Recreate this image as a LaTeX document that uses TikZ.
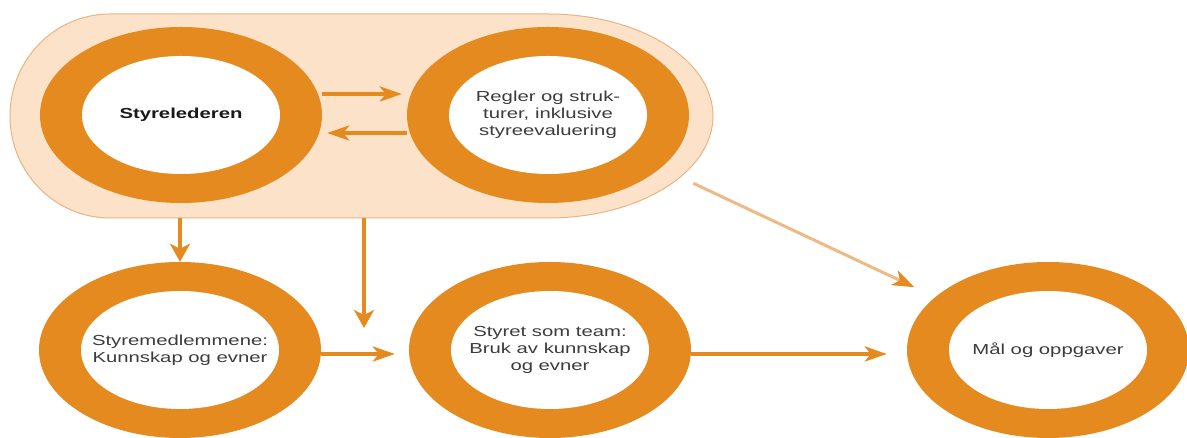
\documentclass[tikz,border=0pt]{standalone}
\usepackage{fontspec}
\setmainfont{Liberation Sans}
\newfontfamily\ringfont[FakeStretch=1.4]{Liberation Sans}
\usetikzlibrary{shapes.geometric, arrows.meta}
\usepackage{xcolor}
\definecolor{ringorange}{HTML}{E48A1F}
\definecolor{bandfill}{HTML}{FBE2C9}
\definecolor{bandline}{HTML}{E7B483}
\definecolor{diagline}{HTML}{EDBA86}
\definecolor{ringtext}{HTML}{3C3C3C}

\tikzset{
	ring/.style={ellipse, fill=ringorange, minimum width=282pt, minimum height=176pt, inner sep=0pt,
		align=center, text=ringtext, font=\ringfont\fontsize{14.5}{17}\selectfont,
		path picture={\fill[white] (path picture bounding box.center) ellipse [x radius=99pt, y radius=59pt];}},
	harrow/.style={draw=ringorange, line width=4pt, -{Stealth[length=22pt,width=15pt,inset=6pt]}},
	varrow/.style={draw=ringorange, line width=4pt, -{Stealth[length=18pt,width=20pt,inset=5pt]}}
}

\begin{document}
\begin{tikzpicture}[x=1pt, y=1pt]
				\useasboundingbox (0,0) rectangle (1187,438);
				% light band behind the two top rings
				\draw [fill=bandfill, draw=bandline, line width=1pt] (110,424) -- (548,424) arc [start angle=90, end angle=-90, x radius=165, y radius=102] -- (110,220) arc [start angle=270, end angle=90, x radius=100, y radius=102] -- cycle;
				\coordinate (bandbase) at (0,220);
				\coordinate (midtip) at (364,110);
				\node (leder) [ring] at (181,323) {\color{black!90}\bfseries Styrelederen};
				\node (regler) [ring] at (548,323) {Regler og struk-\\turer, inklusive\\styreevaluering};
				\node (medl) [ring] at (180,88) {Styremedlemmene:\\Kunnskap og evner};
				\node (team) [ring] at (550,88) {Styret som team:\\Bruk av kunnskap\\og evner};
				\node (maal) [ring] at (1048,88) {Mål og oppgaver};
				\draw [harrow] ([yshift=21pt]leder.east) -- ([yshift=21pt,xshift=-5pt]regler.west);
				\draw [harrow] ([yshift=-18pt]regler.west) -- ([yshift=-18pt,xshift=5pt]leder.east);
				\draw [varrow] (medl.north |- bandbase) -- (medl.north);
				\draw [varrow] (midtip |- bandbase) -- (midtip);
				\draw [harrow] ([yshift=-4pt]medl.east) -- ([yshift=-4pt,xshift=-14pt]team.west);
				\draw [harrow] ([yshift=-4pt]team.east) -- ([yshift=-4pt,xshift=-20pt]maal.west);
				\draw [draw=diagline, line width=3pt, shorten <=36pt, shorten >=23pt, -{Stealth[length=22pt,width=16pt,inset=6pt,color=ringorange]}] (regler) -- (maal);
\end{tikzpicture}
\end{document}
